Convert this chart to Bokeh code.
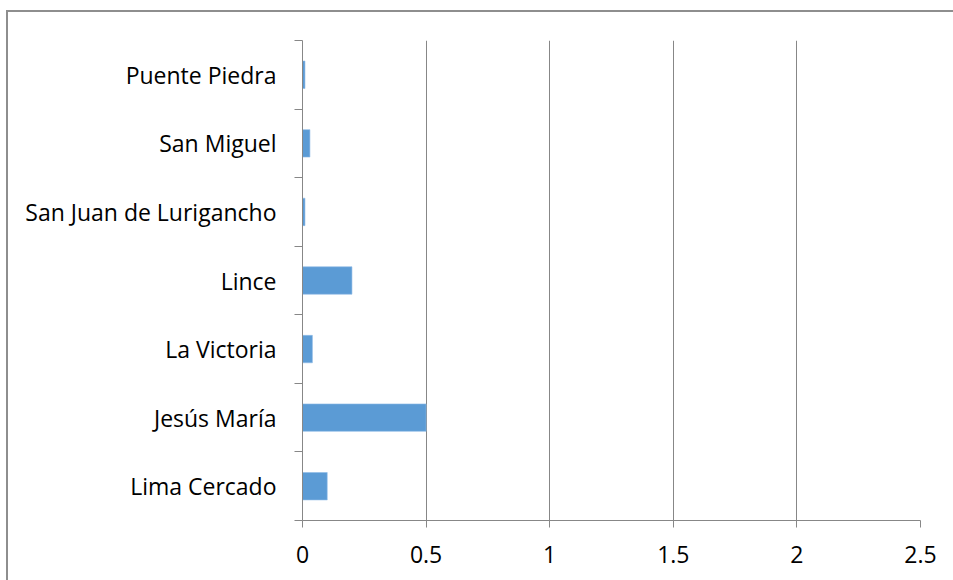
from bokeh.plotting import figure
from bokeh.models import Range1d, FixedTicker, NumeralTickFormatter
from bokeh.embed import file_html
from bokeh.resources import INLINE

# Districts, listed bottom to top
districts = ["Lima Cercado", "Jesús María", "La Victoria", "Lince",
             "San Juan de Lurigancho", "San Miguel", "Puente Piedra"]
values = [0.1, 0.5, 0.04, 0.2, 0.01, 0.03, 0.01]
x_ticks = [0, 0.5, 1, 1.5, 2, 2.5]

FONT = "Open Sans"
FONT_SIZE = "23px"
GRID = "#878787"
BAR = "#5b9bd5"

n = len(districts)
centers = [i + 0.5 for i in range(n)]

p = figure(width=947, height=568, output_backend="svg", toolbar_location=None,
           x_range=Range1d(0, 2.5), y_range=Range1d(0, n),
           frame_width=618, frame_height=480,
           min_border_left=294, min_border_right=34,
           min_border_top=28, min_border_bottom=60)

# chart area border (left and top edges fall inside the window)
p.margin = (10, 0, 0, 6)
p.styles = {"border-left": "2px solid #8e8e8e", "border-top": "2px solid #8e8e8e"}

p.hbar(y=centers, right=values, left=0, height=0.4,
       fill_color=BAR, line_color="#8fbbe6", line_width=0.6)

p.outline_line_color = None
p.background_fill_color = "white"
p.border_fill_color = "white"

# x axis
xa = p.xaxis[0]
xa.ticker = FixedTicker(ticks=x_ticks, minor_ticks=[])
xa.formatter = NumeralTickFormatter(format="0.[0]")
xa.axis_line_color = GRID
xa.major_tick_line_color = GRID
xa.major_tick_out = 7
xa.major_tick_in = 0
xa.minor_tick_line_color = None
xa.major_label_text_font = FONT
xa.major_label_text_font_size = FONT_SIZE
xa.major_label_text_color = "black"
xa.major_label_standoff = 18

# y axis: labels at band centres, short ticks at band boundaries
ya = p.yaxis[0]
ya.ticker = FixedTicker(ticks=centers, minor_ticks=list(range(n + 1)))
ya.major_label_overrides = {c: d for c, d in zip(centers, districts)}
ya.axis_line_color = GRID
ya.major_tick_line_color = None
ya.major_tick_out = 0
ya.major_tick_in = 0
ya.minor_tick_line_color = GRID
ya.minor_tick_out = 8
ya.minor_tick_in = 0
ya.major_label_text_font = FONT
ya.major_label_text_font_size = FONT_SIZE
ya.major_label_text_color = "black"
ya.major_label_standoff = 18

p.ygrid.visible = False
p.xgrid.ticker = FixedTicker(ticks=x_ticks)
p.xgrid.grid_line_color = GRID
p.xgrid.grid_line_width = 1

open("out.html", "w").write(file_html(p, INLINE))
